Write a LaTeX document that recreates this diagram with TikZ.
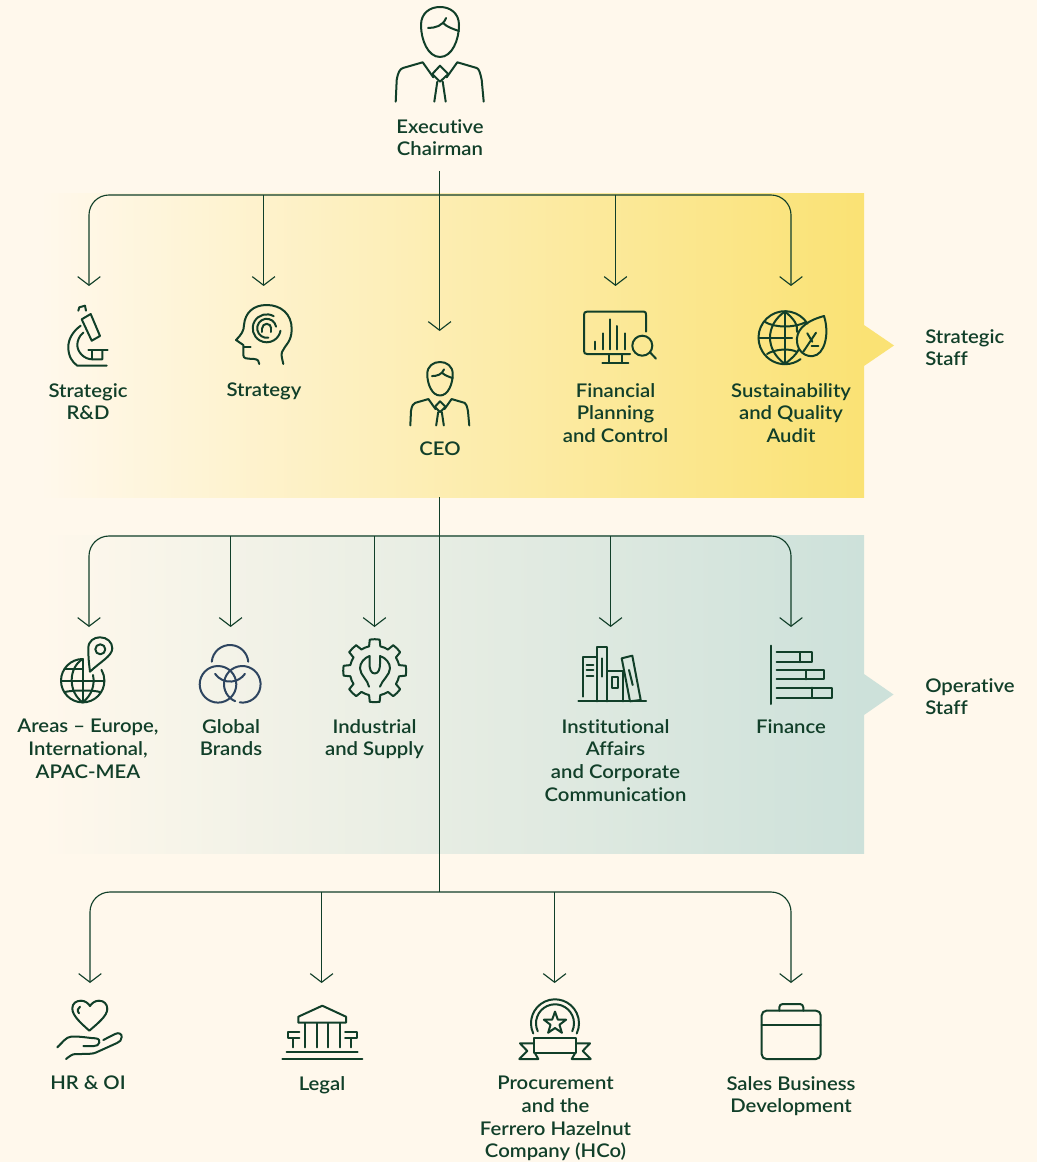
\documentclass[tikz,border=0pt]{standalone}
\usepackage{fontspec}
\setmainfont{Lato}[UprightFont=* Semibold,BoldFont=* Bold,FakeStretch=1.08,Ligatures=NoCommon]
\usetikzlibrary{arrows.meta}
\definecolor{bgc}{HTML}{FFF8EC}
\definecolor{ink}{HTML}{113F29}
\definecolor{yel}{HTML}{FAE274}
\definecolor{yelm}{HTML}{FDF0BA}
\definecolor{tea}{HTML}{CDE1DA}
\definecolor{team}{HTML}{E7EFE4}
\definecolor{blu}{HTML}{2E4560}
\tikzset{
  x=0.75pt,y=-0.75pt,
  lab/.style={font=\fontsize{14.1}{17}\selectfont,text=ink,align=center,inner sep=0pt,anchor=north},
  labl/.style={lab,align=left,anchor=north west},
  conn/.style={draw=ink,line width=.85pt,rounded corners=15pt},
  barb/.tip={Straight Barb[length=6.5pt,width=17pt,line width=.85pt]},
  arr/.style={conn,-barb},
  arrr/.style={conn,barb-barb},
  ico/.style={draw=ink,line width=1.5pt,line cap=round,line join=round},
}
\newcommand{\personicon}{%
  \draw[ico] (-19,18) .. controls (-19,6) and (-10,0) .. (0,0) .. controls (10,0) and (19,6) .. (19,18) .. controls (19,33) and (12,50) .. (0,50) .. controls (-12,50) and (-19,33) .. (-19,18) -- cycle;
  \draw[ico] (-12,21) .. controls (-5,21) and (3,19) .. (6,11);
  \draw[ico] (3,16) .. controls (7,20) and (13,22) .. (19,24);
  \draw[ico] (-44.3,94.7) -- (-43.3,73) .. controls (-42,65) and (-40,62) .. (-37,61) -- (-17.3,55.3) -- (-6.7,70.3);
  \draw[ico] (43.7,94.7) -- (41.7,73) .. controls (40,65) and (39,62) .. (36.7,61) -- (17.3,55.3) -- (6.7,70.3);
  \draw[ico] (0,58.7) -- (8.3,67) -- (0,74.7) -- (-7.7,67) -- cycle;
  \draw[ico] (-2.7,74.7) -- (-5.7,94.7);
  \draw[ico] (2.7,74.7) -- (5.7,94.7);
}
\begin{document}
\begin{tikzpicture}
\useasboundingbox (0,0) rectangle (1037,1162);
\fill[bgc] (0,0) rectangle (1037,1162);
% bands
\shade[left color=bgc,middle color=yelm,right color=yel] (40,194) rectangle (864,497);
\fill[yel] (864,325) -- (894,345.5) -- (864,366) -- cycle;
\shade[left color=bgc,middle color=team,right color=tea] (40,535) rectangle (864,853);
\fill[tea] (864,674) -- (893.5,694.5) -- (864,715) -- cycle;
% coordinates
\coordinate (top) at (439.6,171);
\coordinate (a1) at (89,286); \coordinate (a2) at (263.6,286); \coordinate (a3) at (439.6,331); \coordinate (a4) at (615.5,286); \coordinate (a5) at (791,286);
\coordinate (j1) at (89,195); \coordinate (j2) at (263.6,195); \coordinate (j4) at (615.5,195); \coordinate (j5) at (791,195);
\coordinate (mid) at (439.6,497); \coordinate (low) at (439.6,892);
\coordinate (b1) at (89,627); \coordinate (b2) at (230.6,627); \coordinate (b3) at (374.5,627); \coordinate (b4) at (610.6,627); \coordinate (b5) at (791,627);
\coordinate (k1) at (89,536); \coordinate (k2) at (230.6,536); \coordinate (k3) at (374.5,536); \coordinate (k4) at (610.6,536); \coordinate (k5) at (791,536);
\coordinate (c1) at (90,983); \coordinate (c2) at (321.6,983); \coordinate (c3) at (554.6,983); \coordinate (c4) at (791,983);
\coordinate (l1) at (90,892); \coordinate (l2) at (321.6,892); \coordinate (l3) at (554.6,892); \coordinate (l4) at (791,892);
% connectors
\draw[arr] (top) -- (a3);
\draw[arrr] (a1) -- (j1) -- (j5) -- (a5);
\draw[arr] (j2) -- (a2);
\draw[arr] (j4) -- (a4);
\draw[conn] (mid) -- (low);
\draw[arrr] (b1) -- (k1) -- (k5) -- (b5);
\draw[arr] (k2) -- (b2);
\draw[arr] (k3) -- (b3);
\draw[arr] (k4) -- (b4);
\draw[arrr] (c1) -- (l1) -- (l4) -- (c4);
\draw[arr] (l2) -- (c2);
\draw[arr] (l3) -- (c3);
% labels
\node[lab] (n0) at (440,119) {Executive\\Chairman};
\node[lab] (n1) at (88,383) {Strategic\\R\&D};
\node[lab] (n2) at (264,383) {Strategy};
\node[lab] (n3) at (440,442) {CEO};
\node[lab] (n4) at (615.5,383) {Financial\\Planning\\and Control};
\node[lab] (n5) at (791,383) {Sustainability\\and Quality\\Audit};
\node[labl] (s1) at (925,329) {Strategic\\Staff};
\node[lab] (n6) at (88,719) {Areas – Europe,\\International,\\APAC-MEA};
\node[lab] (n7) at (231,719) {Global\\Brands};
\node[lab] (n8) at (374.5,719) {Industrial\\and Supply};
\node[lab] (n9) at (615.5,719) {Institutional\\Affairs\\and Corporate\\Communication};
\node[lab] (n10) at (791,719) {Finance};
\node[labl] (s2) at (925,678) {Operative\\Staff};
\node[lab] (n11) at (88,1076) {HR \& OI};
\node[lab] (n12) at (322,1076) {Legal};
\node[lab] (n13) at (555.5,1076) {Procurement\\and the\\Ferrero Hazelnut\\Company (HCo)};
\node[lab] (n14) at (791,1076) {Sales Business\\Development};
% persons
\begin{scope}[shift={(440,7)}] \personicon \end{scope}
\begin{scope}[shift={(440,362)},scale=.67] \personicon \end{scope}
% microscope
\draw[ico] (81.7,319.3) -- (90.7,314) -- (100,336) -- (91.7,340.7) -- cycle;
\draw[ico] (78.3,310.7) -- (79.3,307.3) -- (85,305.7) -- (86,310.7);
\draw[ico] (80.7,325.7) .. controls (72,332) and (68.3,340) .. (68.3,347) .. controls (68.3,356) and (72,362) .. (77.3,365.7) -- (106.7,365.7);
\draw[ico] (83.3,332.7) .. controls (79,336) and (77.3,341) .. (77.3,345) .. controls (77.3,352) and (84,359.3) .. (92.3,359.3) -- (102.3,359.3) -- (102.3,350);
\draw[ico] (88.3,350) -- (107.7,350);
\draw[ico] (92.3,350) -- (92.3,359.3);
% head
\draw[ico] (283.3,364) .. controls (282,358) and (281,355) .. (282,352) .. controls (285,345) and (291.7,342) .. (291.7,329) .. controls (291.7,314) and (281,305) .. (266.7,305) .. controls (253,305) and (245,313) .. (244,325) .. controls (244,331) and (241,335) .. (236,340) -- (243.3,345) -- (243.3,355) .. controls (243.3,359) and (247,358.5) .. (254,359) .. controls (258,359.3) and (259,361) .. (259.3,364);
\draw[ico] (244,347.3) -- (250.7,347.3);
\draw[ico] (266.7,328.3) ++(-60:14) arc[start angle=-60,delta angle=-290,radius=14];
\draw[ico] (266.7,328.3) ++(-10:9.5) arc[start angle=-10,delta angle=-270,radius=9.5];
\draw[ico] (266.7,328.3) ++(-180:4.5) arc[start angle=-180,delta angle=180,radius=4.5];
\draw[ico] (262.2,328.3) -- (262.2,332);
\draw[ico] (271.2,328.3) -- (271.2,332);
% monitor
\draw[ico] (646,331.7) -- (646,314.7) .. controls (646,312.5) and (645.5,311.7) .. (644,311.7) -- (587,311.7) .. controls (585,311.7) and (584,312.5) .. (584,314.7) -- (584,351) .. controls (584,353) and (585,354) .. (587,354) -- (630,354);
\draw[ico] (609.3,354) -- (609.3,362.7);
\draw[ico] (621.7,354) -- (621.7,362.7);
\draw[ico] (602.3,362.7) -- (628.3,362.7);
\draw[ico] (595,341.7) -- (595,349.3);
\draw[ico] (602.7,333.3) -- (602.7,349.3);
\draw[ico] (610,319.3) -- (610,349.3);
\draw[ico] (617.3,326) -- (617.3,349.3);
\draw[ico] (625,333.3) -- (625,349.3);
\draw[ico] (642.3,345.7) circle[radius=10];
\draw[ico] (650,352.3) -- (656,358.7);
% globe leaf
\draw[ico] (785,337.7) ++(-32:26.5) arc[start angle=-32,delta angle=-274,radius=26.5];
\draw[ico] (785,311.5) -- (785,364);
\draw[ico] (785,311.5) .. controls (765,325) and (765,350) .. (785,364);
\draw[ico] (785,311.5) .. controls (795,320) and (798,325) .. (797,332);
\draw[ico] (785,364) .. controls (792,358) and (796,355) .. (799,349);
\draw[ico] (758.5,337.7) -- (792,337.7);
\draw[ico] (765,322) .. controls (775,328) and (795,328) .. (806,322);
\draw[ico] (767,354) .. controls (775,349) and (790,348) .. (797,352);
\draw[ico] (824,316) .. controls (802,322) and (796,332) .. (797,342) .. controls (798,352) and (806,357) .. (813,356) .. controls (824,355) and (830,335) .. (824,316) -- cycle;
\draw[ico] (803.3,351.7) -- (816,332.7);
\draw[ico] (807.3,333.3) -- (812.3,341.7);
\draw[ico] (811.7,346) -- (818.3,346);
% globe pin
\draw[ico] (82.7,659) arc[start angle=-90,delta angle=-300,radius=21.7];
\draw[ico] (82.7,659) -- (82.7,702.4);
\draw[ico] (82.7,659) .. controls (68,668) and (68,692) .. (82.7,702.4);
\draw[ico] (82.7,702.4) .. controls (92,695) and (95,685) .. (93,675);
\draw[ico] (61,680.7) -- (104.3,680.7);
\draw[ico] (65,668.5) -- (82.7,668.5);
\draw[ico] (65,692) .. controls (72,690) and (94,690) .. (100,692);
\draw[ico] (90,671.7) .. controls (88.5,660) and (88.3,655) .. (88.3,648.3) .. controls (88.3,641) and (94,637.3) .. (100,637.3) .. controls (107,637.3) and (112.3,642) .. (112.3,648.3) .. controls (112.3,656) and (100,662) .. (90,671.7) -- cycle;
\draw[ico] (100.3,649.3) circle[radius=5];
% circles
\draw[ico,draw=blu] (230,663.3) ++(-175:18.3) arc[start angle=-175,delta angle=170,radius=18.3];
\draw[ico,draw=blu] (230,663.3) ++(-215:18.3) arc[start angle=-215,delta angle=-110,radius=18.3];
\draw[ico,draw=blu] (218,684.3) circle[radius=18.3];
\draw[ico,draw=blu] (242.3,684.3) ++(-262:18.3) arc[start angle=-262,delta angle=-345,radius=18.3];
% gear
\begin{scope}[shift={(374.7,670.7)}]
\foreach \a in {0,45,...,315} {
  \draw[ico] (\a-13:25) -- (\a-9:31.5) arc[start angle=\a-9,delta angle=18,radius=31.5] -- (\a+13:25) arc[start angle=\a+13,delta angle=19,radius=25];
}
\end{scope}
\draw[ico] (369.5,656) -- (369.5,664) .. controls (369.5,669) and (371,673.5) .. (374.7,673.5) .. controls (378.5,673.5) and (380,669) .. (380,664) -- (380,656);
\draw[ico] (369.5,656) .. controls (364,658) and (360,663) .. (360,668.3) .. controls (360,675) and (368,680) .. (369,686.7);
\draw[ico] (380,656) .. controls (386,658) and (390,663) .. (390,668.3) .. controls (390,675) and (382,680) .. (380,686.7);
% books
\draw[ico] (578.3,701.3) -- (646,701.3);
\draw[ico] (596.7,701.3) -- (596.7,647.3) -- (607.3,647.3) -- (607.3,701.3);
\draw[ico] (602,658.3) -- (602,676.7);
\draw[ico] (582.7,696.7) -- (582.7,657.3) -- (596.7,657.3);
\draw[ico] (586.7,665) -- (593.3,665);
\draw[ico] (586.7,670) -- (593.3,670);
\draw[ico] (586.7,675.7) -- (593.3,675.7);
\draw[ico] (607.3,670.7) -- (622.7,670.7) -- (622.7,701.3);
\draw[ico] (611.7,676.7) rectangle (618.3,688.3);
\draw[ico] (621.7,658.3) -- (632.3,655.7) -- (640.7,700) -- (630,701.3) -- cycle;
\draw[ico] (629,670) -- (632.7,685);
% finance
\draw[ico] (771.3,645.7) -- (771.3,704);
\draw[ico] (776.7,652) -- (811.7,652) -- (811.7,662) -- (776.7,662);
\draw[ico] (800,652) -- (800,662);
\draw[ico] (776.7,670) -- (824,670) -- (824,679.3) -- (776.7,679.3);
\draw[ico] (805.7,670) -- (805.7,679.3);
\draw[ico] (776.7,687.7) -- (832.3,687.7) -- (832.3,697.7) -- (776.7,697.7);
\draw[ico] (812.3,687.7) -- (812.3,697.7);
% heart hand
\draw[ico] (89.3,1030.7) .. controls (82,1024) and (72.3,1016) .. (72.3,1008.5) .. controls (72.3,1003.5) and (76,1000.7) .. (81,1000.7) .. controls (85,1000.7) and (88,1003) .. (90,1006) .. controls (92,1003) and (95,1000.7) .. (99,1000.7) .. controls (104,1000.7) and (107.3,1004) .. (107.3,1009) .. controls (107.3,1016) and (97,1024) .. (89.3,1030.7) -- cycle;
\draw[ico] (80,1006.7) .. controls (77.5,1008) and (77,1011) .. (79,1013.3);
\draw[ico] (57.3,1047.3) .. controls (63,1042) and (66,1037) .. (71,1036.7) .. controls (80,1036) and (88,1038) .. (95.5,1038.3) .. controls (99,1038.5) and (100,1041) .. (99.3,1042.5) .. controls (98.5,1045) and (97,1046) .. (94,1046) -- (83.3,1046);
\draw[ico] (103.3,1040) -- (115,1034) .. controls (119,1032) and (122,1034) .. (121.7,1037) .. controls (121.5,1040) and (120,1042) .. (117,1043) -- (96,1052.5) .. controls (93,1054) and (88,1054) .. (76,1054) .. controls (72,1054) and (70,1056) .. (66,1059);
% legal
\draw[ico] (282.3,1058.7) -- (362.3,1058.7);
\draw[ico] (286.7,1052) -- (357.7,1052);
\draw[ico] (298.3,1022.7) -- (298.3,1016.7) -- (322.3,1005.7) -- (346,1016.7) -- (346,1022.7) -- cycle;
\draw[ico] (305,1023.3) -- (305,1047.3);
\draw[ico] (316.7,1023.3) -- (316.7,1047.3);
\draw[ico] (328.3,1023.3) -- (328.3,1047.3);
\draw[ico] (340,1023.3) -- (340,1047.3);
\draw[ico] (299.3,1032.3) -- (287.7,1032.3) -- (287.7,1038.3) -- (299.3,1038.3);
\draw[ico] (292.7,1038.3) -- (292.7,1047.3);
\draw[ico] (345,1032.3) -- (356.7,1032.3) -- (356.7,1038.3) -- (345,1038.3);
\draw[ico] (351,1038.3) -- (351,1047.3);
% medal
\begin{scope}[shift={(555,1023.3)}]
\draw[ico] (-205:24) arc[start angle=-205,delta angle=230,radius=24];
\draw[ico] (-205:19) arc[start angle=-205,delta angle=230,radius=19];
\draw[ico] (-90:11.7) -- (-54:4.7) -- (-18:11.7) -- (18:4.7) -- (54:11.7) -- (90:4.7) -- (126:11.7) -- (162:4.7) -- (198:11.7) -- (234:4.7) -- cycle;
\end{scope}
\draw[ico] (534,1038.3) rectangle (576,1053.3);
\draw[ico] (533.3,1043.3) -- (520,1043.3) -- (527.3,1051) -- (519.3,1059) -- (538.3,1059) -- (535,1053.3);
\draw[ico] (576.7,1043.3) -- (590,1043.3) -- (582.7,1051) -- (590.7,1059) -- (571.7,1059) -- (575,1053.3);
% briefcase
\draw[ico,rounded corners=3.5pt] (761.7,1010.7) rectangle (820.7,1059);
\draw[ico] (761.7,1025) -- (820.7,1025);
\draw[ico,rounded corners=2.5pt] (779.3,1010.7) -- (779.3,1004) -- (803.3,1004) -- (803.3,1010.7);
\end{tikzpicture}
\end{document}
